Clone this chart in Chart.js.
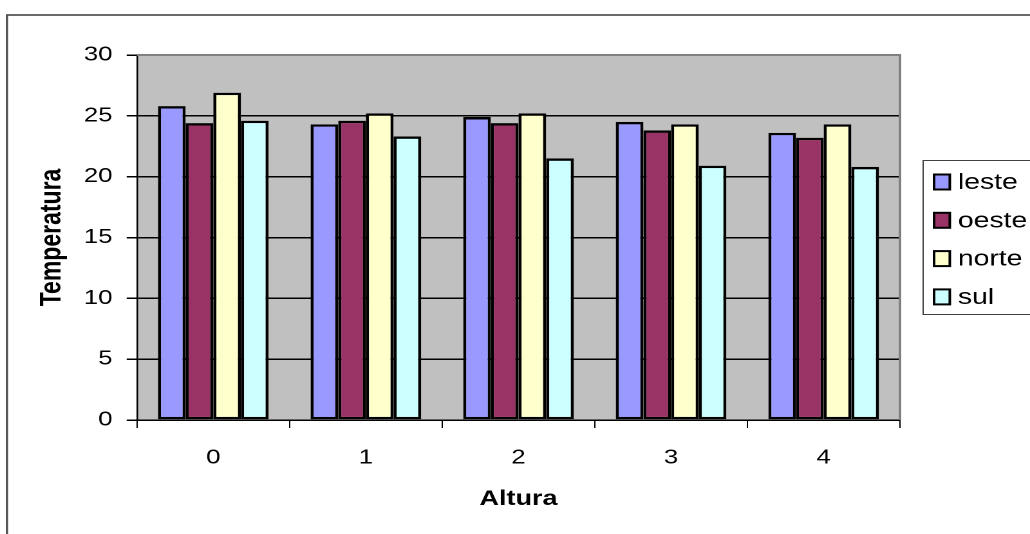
<!DOCTYPE html>
<html>
<head>
<meta charset="utf-8">
<script src="https://cdn.jsdelivr.net/npm/chart.js@4/dist/chart.umd.min.js"></script>
<style>
  html, body { margin: 0; padding: 0; background: #fff; overflow: hidden; }
  /* o original está esticado na horizontal: desenha em 800px e estica para 1030px */
  #wrap { width: 800px; height: 534px; transform: scaleX(1.2875); transform-origin: 0 0; }
</style>
</head>
<body>
<div id="wrap"><canvas id="chart"></canvas></div>
<script>
const alturas = ['0', '1', '2', '3', '4'];
const leste = [25.8, 24.3, 24.9, 24.5, 23.6];
const oeste = [24.4, 24.6, 24.4, 23.8, 23.2];
const norte = [26.9, 25.2, 25.2, 24.3, 24.3];
const sul = [24.6, 23.3, 21.5, 20.9, 20.8];

const seriesNames = ['leste', 'oeste', 'norte', 'sul'];
const seriesColors = ['#9999ff', '#993366', '#ffffcc', '#ccffff'];

const yTicks = [0, 5, 10, 15, 20, 25, 30];

const FONT = '"Liberation Sans", Arial, sans-serif';

// fundo cinza da área do gráfico + moldura externa
const fundo = {
  id: 'fundo',
  beforeDraw(chart) {
    const { ctx, chartArea: a } = chart;
    ctx.save();
    ctx.strokeStyle = '#505050';
    ctx.lineWidth = 1.7;
    ctx.strokeRect(5.4, 15, 900, 600);
    ctx.fillStyle = '#c0c0c0';
    ctx.fillRect(a.left, a.top, a.right - a.left, a.bottom - a.top);
    ctx.restore();
  },
  afterDatasetsDraw(chart) {
    const { ctx, chartArea: a } = chart;
    ctx.save();
    ctx.strokeStyle = '#808080';
    ctx.lineWidth = 2;
    ctx.beginPath();
    ctx.moveTo(a.left, a.top);
    ctx.lineTo(a.right, a.top);
    ctx.lineTo(a.right, a.bottom);
    ctx.stroke();
    ctx.restore();
  }
};

// legenda com caixa, à direita
const legenda = {
  id: 'legenda',
  afterDraw(chart) {
    const { ctx } = chart;
    ctx.save();
    ctx.fillStyle = '#fff';
    ctx.fillRect(717, 160, 100, 154);
    ctx.strokeStyle = '#404040';
    ctx.lineWidth = 1;
    ctx.strokeRect(717, 160.5, 100, 154);
    ctx.font = '22px ' + FONT;
    ctx.textBaseline = 'middle';
    chart.data.datasets.forEach((ds, i) => {
      const y = 182 + i * 38.3;
      ctx.fillStyle = ds.backgroundColor;
      ctx.fillRect(725.5, y - 7.5, 12.2, 15);
      ctx.strokeStyle = '#000';
      ctx.lineWidth = 2;
      ctx.strokeRect(725.5, y - 7.5, 12.2, 15);
      ctx.fillStyle = '#000';
      ctx.fillText(ds.label, 744, y + 1);
    });
    ctx.restore();
  }
};

const valores = [leste, oeste, norte, sul];

new Chart(document.getElementById('chart'), {
  type: 'bar',
  data: {
    labels: alturas,
    datasets: seriesNames.map((nome, i) => ({
      label: nome,
      data: valores[i],
      backgroundColor: seriesColors[i],
      borderColor: '#000',
      borderWidth: 2.4,
      borderSkipped: false,
      barPercentage: 1,
      categoryPercentage: 0.725
    }))
  },
  options: {
    responsive: true,
    maintainAspectRatio: false,
    animation: false,
    devicePixelRatio: 2,
    layout: { padding: { left: 20, top: 55, right: 101, bottom: 10 } },
    plugins: {
      legend: { display: false },
      tooltip: { enabled: false }
    },
    scales: {
      x: {
        afterFit: s => { s.height = 104; },
        grid: {
          drawOnChartArea: false,
          drawTicks: true,
          tickLength: 8,
          color: '#000'
        },
        border: { color: '#000', width: 1.5 },
        ticks: { color: '#000', font: { family: FONT, size: 20 }, padding: 18 },
        title: {
          display: true,
          text: 'Altura',
          color: '#000',
          font: { family: FONT, size: 21, weight: 'bold' },
          padding: { top: 4, bottom: 12 }
        }
      },
      y: {
        min: 0,
        max: 30,
        afterFit: s => { s.width = 86.4; },
        afterBuildTicks: s => { s.ticks = yTicks.map(v => ({ value: v })); },
        grid: {
          color: c => (c.tick && c.tick.value === 30 ? '#808080' : '#000'),
          lineWidth: 1.5,
          tickLength: 8,
          tickColor: '#000'
        },
        border: { color: '#000', width: 1.3 },
        ticks: { color: '#000', font: { family: FONT, size: 20 }, padding: 11 },
        title: {
          display: true,
          text: 'Temperatura',
          color: '#000',
          font: { family: FONT, size: 23, weight: 'bold' },
          padding: { top: 7, bottom: 0 }
        }
      }
    }
  },
  plugins: [fundo, legenda]
});
</script>
</body>
</html>
